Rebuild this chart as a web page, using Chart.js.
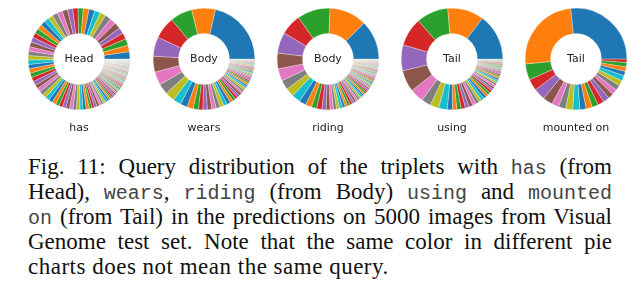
<!DOCTYPE html>
<html>
<head>
<meta charset="utf-8">
<script src="https://cdn.jsdelivr.net/npm/chart.js@4"></script>
<style>
  html, body { margin: 0; padding: 0; background: #fff; }
  #wrap { position: relative; width: 639px; height: 294px; overflow: hidden; }
  .pie { position: absolute; width: 102px; height: 102px; }
  .center { position: absolute; font-family: "DejaVu Sans", sans-serif; font-size: 11px; color: #222; text-align: center; width: 60px; }
  .lab { position: absolute; font-family: "DejaVu Sans", sans-serif; font-size: 11px; color: #222; text-align: center; width: 110px; }
  #cap { position: absolute; left: 28px; top: 154px; width: 584px; font-family: "Liberation Serif", serif; font-size: 23px; color: #111; }
  #cap .ln { height: 25px; line-height: 25px; text-align: justify; text-align-last: justify; }
  #cap .ln.last { text-align-last: left; letter-spacing: 0.5px; }
  #cap code { font-family: "Liberation Mono", monospace; font-size: 20px; color: #444; letter-spacing: 0; }
</style>
</head>
<body>
<div id="wrap">
  <div id="charts"></div>
  <div id="cap">
    <div class="ln">Fig. 11: Query distribution of the triplets with <code>has</code> (from</div>
    <div class="ln">Head), <code>wears</code>, <code>riding</code> (from Body) <code>using</code> and <code>mounted</code></div>
    <div class="ln"><code>on</code> (from Tail) in the predictions on 5000 images from Visual</div>
    <div class="ln">Genome test set. Note that the same color in different pie</div>
    <div class="ln last">charts does not mean the same query.</div>
  </div>
</div>
<script>
// Predicates (bottom labels) and subject part (centre labels)
const categories = ['has', 'wears', 'riding', 'using', 'mounted on'];
const centerLabels = ['Head', 'Body', 'Body', 'Tail', 'Tail'];

// Query distributions (sorted shares)
const hasHead = [8,7.5,7.5,7,7,7,7,7,6.5,6.5,6.5,6.5,6,
  6,6,6,6,6,5.5,5.5,5.5,5.5,5.5,5.5,5.5,5.5,5,5,5,
  5,5,5,5,5,4.5,4.5,4.5,4.5,4.5,4.5,4.5,4.5,4,4,4,4,4,4,4,
  3.5,3.5,3.5,3,3,3,3,2.5,2.5,2.5,2.5,2.5,2,2,2,2,2,1.8,1.8,1.6,
  1.4,1.3,1.2,1.2,1.1,1.1,1,1,1,0.9,0.9,0.9,0.9,0.8,0.8,0.8,0.8,0.8,
  0.7,0.7,0.7,0.7,0.7,0.7,0.6,0.6,0.6,0.6,0.6,0.6,0.5,0.5,0.5,0.5,0.5,0.5,0.5,
  0.4,0.4,0.4,0.4,0.4,0.4,0.4,0.4,0.3,0.3,0.3,0.3,0.3,0.3,0.3,0.3,0.3,
  0.2,0.2,0.2,0.2,0.2,0.2,0.2,0.2,0.2,0.2,0.1,0.1,0.1,0.1,0.1,0.1];
const wearsBody = [76,27,25,25,22,18,15,12,11,9,8,7,6,5,5,5,5,4.5,4.5,4,4,3.5,3.5,3,3,3,
  2.5,2.5,2.5,2.2,2,2,2,1.8,1.8,1.6,1.6,1.5,1.4,1.3,1.2,1.2,1.1,1,1,0.9,0.9,0.8,0.8,
  0.7,0.7,0.6,0.6,0.5,0.5,0.5,0.4,0.4,0.4,0.3,0.3,0.3,0.2,0.2,0.2];
const ridingBody = [45,43,38,24,24,18,14,11,10,10,8,7,6,6,5,4.5,4,
  3.5,3.5,3.5,3,3,3,3,2.5,2.5,2.5,2.5,2.2,2.2,2,2,2,2,1.8,1.8,1.6,1.6,1.5,1.5,1.4,1.4,
  1.3,1.3,1.2,1.2,1.1,1.1,1,1,1,0.9,0.9,0.9,0.8,0.8,0.8,0.7,0.7,0.7,0.7,0.6,0.6,0.6,0.6,
  0.5,0.5,0.5,0.5,0.4,0.4,0.4,0.4,0.3,0.3,0.3,0.3,0.2,0.2,0.2,0.2,0.2,0.1,0.1,0.1];
const usingTail = [54,42,37,33,30,25,16,11,10,10,6,5,5,5,4.5,4.5,4,4,3.5,3.5,3.5,3,3,3,
  2.5,2.5,2.5,2.5,2,2,2,2,1.8,1.6,1.5,1.5,1.4,1.2,1.2,1.1,1,1,1,0.9,0.8,0.8,0.7,0.7,
  0.6,0.5,0.5,0.4,0.4,0.3,0.3];
const mountedTail = [94,88,18,13,13,11,8,8,8,8,7,7,7,7,7,6,6,6,6,6,5,5,5,4];

const series = [hasHead, wearsBody, ridingBody, usingTail, mountedTail];
const centersX = [79, 204, 328, 452, 576];
const centerY = 59;
const tab10 = ['#1f77b4','#ff7f0e','#2ca02c','#d62728','#9467bd','#8c564b','#e377c2','#7f7f7f','#bcbd22','#17becf'];

const host = document.getElementById('charts');
series.forEach((vals, k) => {
  const size = 102;
  const box = document.createElement('div');
  box.className = 'pie';
  box.style.left = (centersX[k] - size / 2) + 'px';
  box.style.top = (centerY - size / 2) + 'px';
  const cv = document.createElement('canvas');
  cv.width = size; cv.height = size;
  box.appendChild(cv);
  host.appendChild(box);

  // matplotlib draws counter-clockwise from 3 o'clock; Chart.js draws clockwise,
  // so feed the data reversed and start at 3 o'clock.
  const n = vals.length;
  const data = vals.slice().reverse();
  const colors = data.map((_, j) => tab10[(n - 1 - j) % 10]);
  new Chart(cv, {
    type: 'doughnut',
    data: { labels: data.map((_, j) => 'q' + (n - j)), datasets: [{ data: data, backgroundColor: colors, borderColor: '#ffffff', borderWidth: 0.3 }] },
    options: {
      responsive: false, animation: false, rotation: 90, cutout: '50%',
      layout: { padding: 0 },
      plugins: { legend: { display: false }, tooltip: { enabled: false } }
    }
  });

  const c = document.createElement('div');
  c.className = 'center';
  c.textContent = centerLabels[k];
  c.style.left = (centersX[k] - 30) + 'px';
  c.style.top = (centerY - 7) + 'px';
  host.appendChild(c);

  const l = document.createElement('div');
  l.className = 'lab';
  l.textContent = categories[k];
  l.style.left = (centersX[k] - 55) + 'px';
  l.style.top = '121px';
  host.appendChild(l);
});
</script>
</body>
</html>
